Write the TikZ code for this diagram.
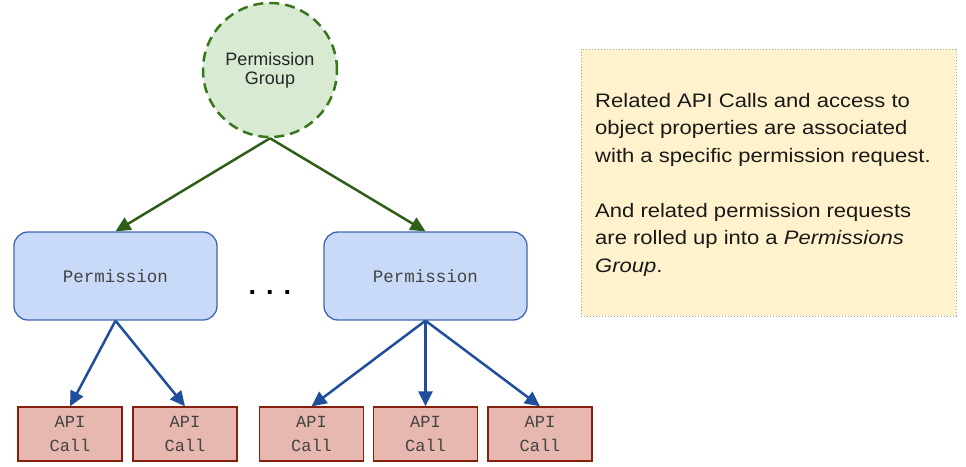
\documentclass[tikz,border=0pt]{standalone}
\usepackage{fontspec}
\setmainfont{Liberation Sans}
\newfontfamily\monofont{Liberation Mono}
\newfontfamily\notefont[FakeStretch=1.13]{Liberation Sans}
\usetikzlibrary{arrows.meta,shapes.geometric}
\definecolor{grpfill}{HTML}{D9EAD3}
\definecolor{grpline}{HTML}{38761D}
\definecolor{grparrow}{HTML}{2E5E17}
\definecolor{permfill}{HTML}{C9DAF8}
\definecolor{permline}{HTML}{3F67B0}
\definecolor{apifill}{HTML}{E6B8AF}
\definecolor{apiline}{HTML}{85200C}
\definecolor{notefill}{HTML}{FFF2CC}
\definecolor{noteline}{HTML}{A0A0A0}
\definecolor{bluearrow}{HTML}{1F4E9C}
\definecolor{txtgray}{HTML}{434343}
\tikzset{
  grp/.style={circle, draw=grpline, fill=grpfill, line width=2.5pt, dash pattern=on 10pt off 6pt, minimum size=134pt, inner sep=0pt, align=center, font=\fontsize{18}{21}\selectfont, text=black!85},
  perm/.style={draw=permline, fill=permfill, rounded corners=14pt, line width=1.3pt, minimum width=203pt, minimum height=88pt, inner sep=0pt, font=\monofont\fontsize{17.5}{20}\selectfont, text=txtgray},
  api/.style={draw=apiline, fill=apifill, line width=1.3pt, minimum width=104pt, minimum height=54pt, inner sep=0pt, align=center, font=\monofont\fontsize{17}{24}\selectfont, text=txtgray},
  garrow/.style={draw=grparrow, line width=2.5pt, -{Triangle[length=15pt,width=14pt]}},
  barrow/.style={draw=bluearrow, line width=2.5pt, -{Triangle[length=15pt,width=14pt]}},
}
\begin{document}
\begin{tikzpicture}[x=1pt,y=-1pt]
\useasboundingbox (0,0) rectangle (966,466);
\node[grp] (g) at (270,70) {Permission\\[-2pt]Group};
\node[perm] (p1) at (115.5,276) {Permission};
\node[perm] (p2) at (425.5,276) {Permission};
\node[font=\bfseries\fontsize{27}{27}\selectfont, inner sep=0pt] (dots) at (270,292) {. . .};
\node[api] (a1) at (70,434) {API\\Call};
\node[api] (a2) at (185,434) {API\\Call};
\node[api] (a3) at (311.5,434) {API\\Call};
\node[api] (a4) at (425.5,434) {API\\Call};
\node[api] (a5) at (540,434) {API\\Call};
\draw[garrow] (g.south) -- (p1.north);
\draw[garrow] (g.south) -- (p2.north);
\draw[barrow] (p1.south) -- (a1.north);
\draw[barrow] (p1.south) -- (a2.north);
\draw[barrow] (p2.south) -- (a3.north);
\draw[barrow] (p2.south) -- (a4.north);
\draw[barrow] (p2.south) -- (a5.north);
\node[draw=noteline, fill=notefill, dotted, line width=1pt, minimum width=375pt, minimum height=267pt, inner sep=0pt] (note) at (768.5,182.5) {};
\node[anchor=north west, inner sep=0pt, align=left, font=\notefont\fontsize{19.5}{27.5}\selectfont, text=black!90] (notetext) at (595,93) {Related API Calls and access to\\object properties are associated\\with a specific permission request.\\[27.5pt]And related permission requests\\are rolled up into a \textit{Permissions}\\\textit{Group}.};
\end{tikzpicture}
\end{document}
